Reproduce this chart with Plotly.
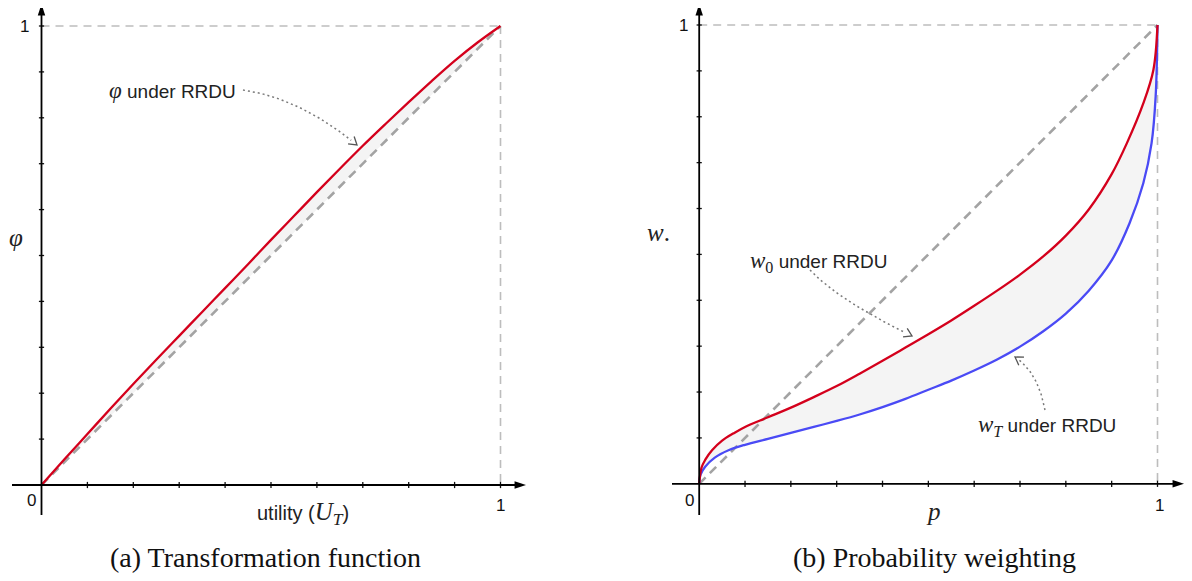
import numpy as np
import plotly.graph_objects as go

W_REF, H_REF = 1192, 581
OFF = 8                      # default page margin of the html body
W, H = W_REF - OFF, H_REF - OFF

# ---------------- data ----------------
u_vals = [0, 0.05, 0.1, 0.15, 0.2, 0.25, 0.3, 0.35, 0.4, 0.45, 0.5, 0.55, 0.6, 0.65,
          0.7, 0.75, 0.8, 0.85, 0.9, 0.95, 1.0]
phi_vals = [0, 0.056, 0.111, 0.166, 0.220, 0.273, 0.325, 0.377, 0.429, 0.481, 0.534,
            0.586, 0.638, 0.689, 0.739, 0.787, 0.834, 0.880, 0.924, 0.964, 1.0]

p_w0 = [0, 0.005, 0.013, 0.028, 0.05, 0.075, 0.1, 0.15, 0.2, 0.25, 0.3, 0.35, 0.4, 0.45,
        0.5, 0.55, 0.6, 0.65, 0.7, 0.75, 0.8, 0.85, 0.9, 0.933, 0.969, 0.991, 1.0]
w0_vals = [0, 0.035, 0.052, 0.073, 0.094, 0.110, 0.124, 0.145, 0.166, 0.189, 0.213, 0.240,
           0.268, 0.297, 0.326, 0.356, 0.388, 0.421, 0.456, 0.495, 0.541, 0.598, 0.675,
           0.742, 0.829, 0.902, 1.0]

p_wT = [0, 0.003, 0.013, 0.034, 0.064, 0.1, 0.15, 0.2, 0.25, 0.3, 0.35, 0.4, 0.45, 0.5,
        0.55, 0.6, 0.65, 0.7, 0.75, 0.8, 0.85, 0.9, 0.939, 0.969, 0.987, 0.996, 1.0]
wT_vals = [0, 0.020, 0.037, 0.057, 0.073, 0.085, 0.098, 0.111, 0.124, 0.137, 0.151, 0.167,
           0.185, 0.205, 0.225, 0.247, 0.271, 0.299, 0.332, 0.371, 0.421, 0.487, 0.568,
           0.655, 0.742, 0.845, 1.0]

diag_vals = [0, 1]
tick_vals = [0.1, 0.2, 0.3, 0.4, 0.5, 0.6, 0.7, 0.8, 0.9, 1.0]
tick_labels = ["0", "1"]

# ---------------- styling ----------------
RED = "#d4001c"
BLUE = "#4a4af5"
FILL = "#f4f4f4"
DIAG = "#a3a3a3"
GUIDE = "#bdbdbd"
SANS = "Liberation Sans, Arial, sans-serif"
SERIF = "Liberation Serif, DejaVu Serif, serif"

# reference-pixel -> data helpers for the two panels
def Lx(px): return (px - 41.5) / 459.0
def Ly(py): return (485.0 - py) / 459.0
def Rx(px): return (px - 699.2) / 458.3
def Ry(py): return (483.8 - py) / 458.8

fig = go.Figure()

# ---- left panel ----
fig.add_trace(go.Scatter(x=diag_vals, y=diag_vals, mode="lines", line=dict(width=0),
                         xaxis="x", yaxis="y", showlegend=False, hoverinfo="skip"))
fig.add_trace(go.Scatter(x=u_vals, y=phi_vals, mode="lines", line=dict(width=0, shape="spline"),
                         fill="tonexty", fillcolor=FILL, xaxis="x", yaxis="y",
                         showlegend=False, hoverinfo="skip"))
fig.add_trace(go.Scatter(x=diag_vals, y=diag_vals, mode="lines",
                         line=dict(color=DIAG, width=2.6, dash="9px,6px"),
                         xaxis="x", yaxis="y", showlegend=False))
fig.add_trace(go.Scatter(x=u_vals, y=phi_vals, mode="lines",
                         line=dict(color=RED, width=2.3, shape="spline"),
                         xaxis="x", yaxis="y", showlegend=False))

# ---- right panel ----
fig.add_trace(go.Scatter(x=p_wT, y=wT_vals, mode="lines", line=dict(width=0, shape="spline"),
                         xaxis="x2", yaxis="y2", showlegend=False, hoverinfo="skip"))
fig.add_trace(go.Scatter(x=p_w0, y=w0_vals, mode="lines", line=dict(width=0, shape="spline"),
                         fill="tonexty", fillcolor=FILL, xaxis="x2", yaxis="y2",
                         showlegend=False, hoverinfo="skip"))
fig.add_trace(go.Scatter(x=diag_vals, y=diag_vals, mode="lines",
                         line=dict(color=DIAG, width=2.6, dash="9px,6px"),
                         xaxis="x2", yaxis="y2", showlegend=False))
fig.add_trace(go.Scatter(x=p_wT, y=wT_vals, mode="lines",
                         line=dict(color=BLUE, width=2.3, shape="spline"),
                         xaxis="x2", yaxis="y2", showlegend=False))
fig.add_trace(go.Scatter(x=p_w0, y=w0_vals, mode="lines",
                         line=dict(color=RED, width=2.3, shape="spline"),
                         xaxis="x2", yaxis="y2", showlegend=False))

# ---- callout dotted curves (quadratic Bezier) with open chevron heads ----
def bezier(p0, c, p2, n=40):
    t = np.linspace(0, 1, n)[:, None]
    p0, c, p2 = map(np.array, (p0, c, p2))
    return (1 - t) ** 2 * p0 + 2 * (1 - t) * t * c + t ** 2 * p2

callouts = [
    # (start px, control px, tip px, panel)  -- reference pixel positions
    ((243, 90), (300, 98), (357, 145), "L"),
    ((810, 270), (838, 300), (912, 336), "R"),
    ((1045, 410), (1038, 372), (1015, 357), "R"),
]
for s, c, e, panel in callouts:
    pts = bezier(s, c, e)
    fx, fy, xr, yr = (Lx, Ly, "x", "y") if panel == "L" else (Rx, Ry, "x2", "y2")
    fig.add_trace(go.Scatter(x=[fx(v) for v in pts[:-2, 0]], y=[fy(v) for v in pts[:-2, 1]],
                             mode="lines", line=dict(color="#7a7a7a", width=1.5, dash="2px,3px"),
                             xaxis=xr, yaxis=yr, showlegend=False, hoverinfo="skip"))
    d = np.array(e, float) - np.array(c, float)
    d /= np.linalg.norm(d)
    ang = np.radians(32)
    arm = 9.0
    rot = lambda v, a: np.array([v[0] * np.cos(a) - v[1] * np.sin(a),
                                 v[0] * np.sin(a) + v[1] * np.cos(a)])
    a1 = np.array(e) - arm * rot(d, ang)
    a2 = np.array(e) - arm * rot(d, -ang)
    hx = [a1[0], e[0], a2[0]]
    hy = [a1[1], e[1], a2[1]]
    fig.add_trace(go.Scatter(x=[fx(v) for v in hx], y=[fy(v) for v in hy], mode="lines",
                             line=dict(color="#555555", width=1.3),
                             xaxis=xr, yaxis=yr, showlegend=False, hoverinfo="skip"))

# ---- axes, ticks and guides ----
shapes = []
for xr, yr, fx, fy, x_lo, x_hi, y_lo, y_hi in [
        ("x", "y", Lx, Ly, 12, 526, 515, 4),
        ("x2", "y2", Rx, Ry, 672, 1184, 515, 4)]:
    shapes.append(dict(type="line", xref=xr, yref=yr, x0=0, y0=1, x1=1, y1=1,
                       line=dict(color=GUIDE, width=1.6, dash="8px,6px"), layer="below"))
    shapes.append(dict(type="line", xref=xr, yref=yr, x0=1, y0=1, x1=1, y1=0,
                       line=dict(color=GUIDE, width=1.6, dash="8px,6px"), layer="below"))
    tx = 2.6 / 459.0
    for t in tick_vals:
        shapes.append(dict(type="line", xref=xr, yref=yr, x0=t, x1=t, y0=-tx * 1.2, y1=tx * 1.2,
                           line=dict(color="#111111", width=1.3)))
        shapes.append(dict(type="line", xref=xr, yref=yr, x0=-tx, x1=tx, y0=t, y1=t,
                           line=dict(color="#111111", width=1.3)))
    # axis lines
    shapes.append(dict(type="line", xref=xr, yref=yr, x0=fx(x_lo), x1=fx(x_hi) - 8 / 459, y0=0, y1=0,
                       line=dict(color="#000000", width=1.8)))
    shapes.append(dict(type="line", xref=xr, yref=yr, x0=0, x1=0, y0=fy(y_lo), y1=fy(y_hi) - 8 / 459,
                       line=dict(color="#000000", width=1.8)))
    # arrow tips
    fig.add_trace(go.Scatter(x=[fx(x_hi), 0], y=[0, fy(y_hi)], mode="markers",
                             marker=dict(symbol="arrow", size=12, angle=[90, 0],
                                         color="#000000", line=dict(width=0)),
                             xaxis=xr, yaxis=yr, showlegend=False, hoverinfo="skip"))

annotations = []

def txt(x, y, xr, yr, text, size, family, xanchor="center", yanchor="middle", color="#222222"):
    return dict(x=x, y=y, xref=xr, yref=yr, text=text, showarrow=False,
                font=dict(size=size, family=family, color=color),
                xanchor=xanchor, yanchor=yanchor)

# tick labels
annotations += [
    txt(Lx(31), Ly(500), "x", "y", tick_labels[0], 17, SANS, color="#111111"),
    txt(Lx(500), Ly(505), "x", "y", tick_labels[1], 17, SANS, color="#111111"),
    txt(Lx(24), Ly(26), "x", "y", tick_labels[1], 17, SANS, color="#111111"),
    txt(Rx(689), Ry(500), "x2", "y2", tick_labels[0], 17, SANS, color="#111111"),
    txt(Rx(1159), Ry(505), "x2", "y2", tick_labels[1], 17, SANS, color="#111111"),
    txt(Rx(683), Ry(25), "x2", "y2", tick_labels[1], 17, SANS, color="#111111"),
]

SER = "<span style=\"font-family:Liberation Serif;font-size:23px\">"
SER_U = "<span style=\"font-family:Liberation Serif;font-size:25px\">"
# axis titles
annotations += [
    txt(Lx(16), Ly(237), "x", "y", "<i>φ</i>", 25, SERIF),
    txt(Lx(303), Ly(513), "x", "y",
        "utility (" + SER_U + "<i>U</i><sub><i>T</i></sub></span>)", 20, SANS),
    txt(Rx(658), Ry(232), "x2", "y2", "<i>w</i>.", 25, SERIF),
    txt(Rx(933), Ry(511), "x2", "y2", "<i>p</i>", 25, SERIF),
]

# callout labels
annotations += [
    txt(Lx(238), Ly(90), "x", "y", SER + "<i>φ</i></span> under RRDU", 19, SANS, xanchor="right"),
    txt(Rx(818), Ry(262), "x2", "y2", SER + "<i>w</i><sub>0</sub></span> under RRDU", 19, SANS),
    txt(Rx(1047), Ry(426), "x2", "y2", SER + "<i>w</i><sub><i>T</i></sub></span> under RRDU", 19, SANS),
]

# captions
annotations += [
    dict(x=(265 - OFF) / W, y=1 - (557 - OFF) / H, xref="paper", yref="paper", showarrow=False,
         text="(a) Transformation function", font=dict(size=28, family=SERIF, color="#111111"),
         xanchor="center", yanchor="middle"),
    dict(x=(934 - OFF) / W, y=1 - (557 - OFF) / H, xref="paper", yref="paper", showarrow=False,
         text="(b) Probability weighting", font=dict(size=28, family=SERIF, color="#111111"),
         xanchor="center", yanchor="middle"),
]

ax_common = dict(visible=False, showgrid=False, zeroline=False, fixedrange=True)
fig.update_layout(
    width=W, height=H, margin=dict(l=0, r=0, t=0, b=0),
    paper_bgcolor="white", plot_bgcolor="white", showlegend=False,
    xaxis=dict(domain=[0, (560 - OFF) / W], range=[Lx(OFF), Lx(560)], **ax_common),
    yaxis=dict(domain=[0, 1], range=[Ly(H_REF), Ly(OFF)], anchor="x", **ax_common),
    xaxis2=dict(domain=[(620 - OFF) / W, 1], range=[Rx(620), Rx(W_REF)], anchor="y2", **ax_common),
    yaxis2=dict(domain=[0, 1], range=[Ry(H_REF), Ry(OFF)], anchor="x2", **ax_common),
    shapes=shapes, annotations=annotations,
)

fig.write_html("out.html")
